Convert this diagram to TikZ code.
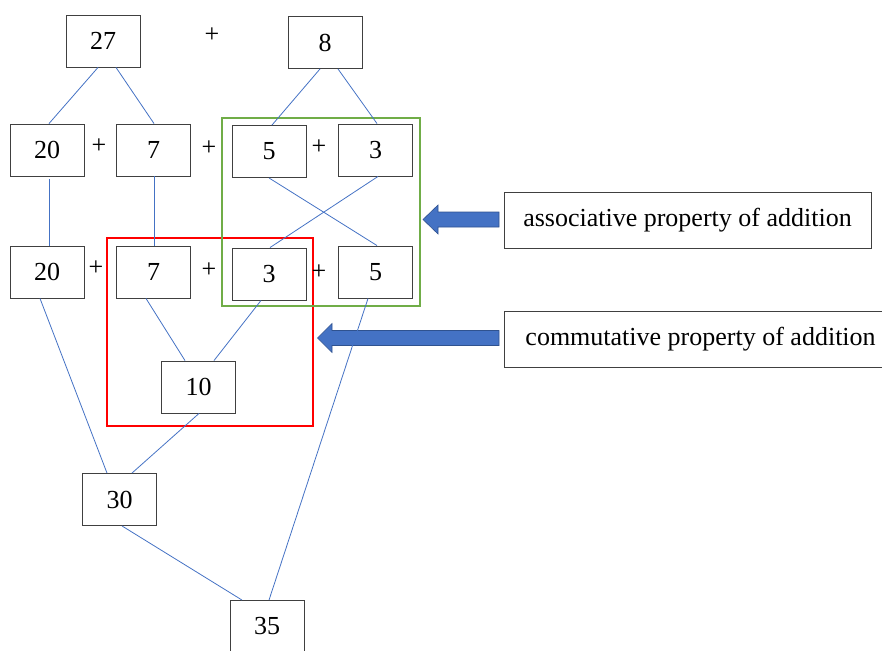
\documentclass[tikz,border=0pt]{standalone}
\usepackage{fontspec}
\setmainfont{Liberation Serif}
\definecolor{linkblue}{RGB}{68,114,196}
\definecolor{arrowedge}{RGB}{47,82,143}
\definecolor{framegreen}{RGB}{112,173,71}
\definecolor{boxedge}{RGB}{64,64,64}
\begin{document}
\begin{tikzpicture}[x=1pt,y=-1pt,
  numbox/.style={draw=boxedge, line width=0.9pt, minimum width=74pt, minimum height=52pt, inner sep=0pt, font=\fontsize{26}{26}\selectfont},
  plus/.style={inner sep=0pt, font=\fontsize{26}{26}\selectfont},
  link/.style={draw=linkblue, line width=0.8pt},
  labelbox/.style={draw=boxedge, line width=0.9pt, minimum height=56pt, inner ysep=0pt, font=\fontsize{26}{26}\selectfont},
  blockarrow/.style={fill=linkblue, draw=arrowedge, line width=0.6pt},
  groupbox/.style={line width=2pt}
]
\useasboundingbox (0,0) rectangle (882,650);
\clip (0,0) rectangle (882,650);

% top row
\node[numbox] (a27) at (103,41) {27};
\node[numbox] (a8) at (325,42.5) {8};
\node[plus] (p0) at (212,35) {+};

% second row
\node[numbox] (b20) at (47,150) {20};
\node[numbox] (b7) at (153.5,150) {7};
\node[numbox] (b5) at (269,151.5) {5};
\node[numbox] (b3) at (375.5,150) {3};
\node[plus] (p1) at (99,146) {+};
\node[plus] (p2) at (209,148) {+};
\node[plus] (p3) at (319,147) {+};

% third row
\node[numbox] (c20) at (47,272) {20};
\node[numbox] (c7) at (153.5,272) {7};
\node[numbox] (c3) at (269,274) {3};
\node[numbox] (c5) at (375.5,272) {5};
\node[plus] (p4) at (96,268) {+};
\node[plus] (p5) at (209,270) {+};

% partial sums
\node[numbox] (d10) at (198.5,387) {10};
\node[numbox] (e30) at (119.5,499.5) {30};
\node[numbox] (f35) at (267,626.5) {35};

% property labels
\node[labelbox, minimum width=367pt, inner xsep=0pt] (assoc) at (687.5,220) {associative property of addition};
\node[labelbox, anchor=west, inner xsep=21pt] (comm) at (504,339) {commutative property of addition};

% grouping frames
\draw[groupbox, red] (107,238) rectangle (312.5,426);
\draw[groupbox, framegreen] (222,118) rectangle (420,305.5);
\node[plus] (p6) at (319,272) {+};

% block arrows pointing at the frames
\draw[blockarrow] (423,219.5) -- (438,205) -- (438,212) -- (499,212) -- (499,227) -- (438,227) -- (438,234) -- cycle;
\draw[blockarrow] (317.5,338) -- (332,323.5) -- (332,330.5) -- (499,330.5) -- (499,345.5) -- (332,345.5) -- (332,352.5) -- cycle;

% decomposition links
\draw[link] ([xshift=-5pt]a27.south) -- ([xshift=2pt]b20.north);
\draw[link] ([xshift=13pt]a27.south) -- ([xshift=0.5pt]b7.north);
\draw[link] ([xshift=-5pt]a8.south) -- ([xshift=3pt]b5.north);
\draw[link] ([xshift=13pt]a8.south) -- ([xshift=1.5pt]b3.north);
\draw[link] ([xshift=2pt,yshift=-3pt]b20.south) -- ([xshift=2pt]c20.north);
\draw[link] ([xshift=0.5pt]b7.south) -- ([xshift=0.5pt]c7.north);
\draw[link] ([xshift=0pt]b5.south) -- ([xshift=1.5pt]c5.north);
\draw[link] ([xshift=2.5pt]b3.south) -- ([xshift=1pt]c3.north);
\draw[link] ([xshift=-7pt]c20.south) -- ([xshift=-12.5pt]e30.north);
\draw[link] ([xshift=-7.5pt]c7.south) -- ([xshift=-13.5pt]d10.north);
\draw[link] ([xshift=-8pt]c3.south) -- ([xshift=15.5pt]d10.north);
\draw[link] ([xshift=0.5pt]d10.south) -- ([xshift=12.5pt]e30.north);
\draw[link] ([xshift=-7.5pt]c5.south) -- ([xshift=2pt]f35.north);
\draw[link] ([xshift=2.5pt]e30.south) -- ([xshift=-25pt]f35.north);
\end{tikzpicture}
\end{document}
